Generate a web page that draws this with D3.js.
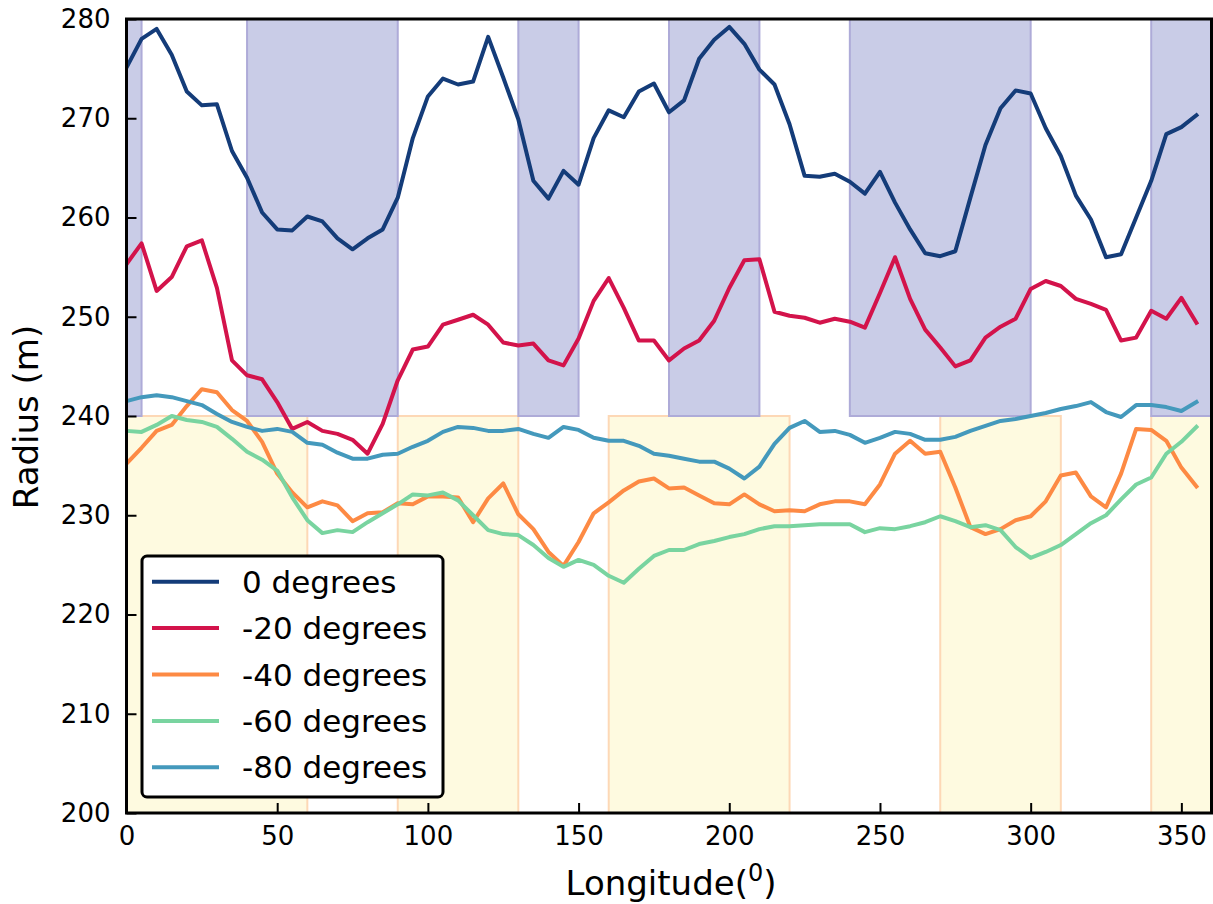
<!DOCTYPE html>
<html>
<head>
<meta charset="utf-8">
<script src="https://cdn.jsdelivr.net/npm/d3@7"></script>
<style>
  html, body { margin: 0; padding: 0; background: #fff; }
  svg { display: block; font-family: "DejaVu Sans", sans-serif; }
</style>
</head>
<body>
<svg id="chart" width="1213" height="904"></svg>
<script>
// ---- data ----
const longitudes = [0, 5, 10, 15, 20, 25, 30, 35, 40, 45, 50, 55, 60, 65, 70, 75, 80, 85, 90, 95,
  100, 105, 110, 115, 120, 125, 130, 135, 140, 145, 150, 155, 160, 165, 170, 175, 180, 185, 190, 195,
  200, 205, 210, 215, 220, 225, 230, 235, 240, 245, 250, 255, 260, 265, 270, 275, 280, 285, 290, 295,
  300, 305, 310, 315, 320, 325, 330, 335, 340, 345, 350, 355];

const seriesNames = ["0 degrees", "-20 degrees", "-40 degrees", "-60 degrees", "-80 degrees"];
const seriesColors = ["#143c79", "#d3134b", "#fd8a44", "#79d4a0", "#4499bc"];

const deg0 = [275.1, 278.0, 279.0, 276.4, 272.7, 271.3, 271.4, 266.7, 264.0, 260.5,
  258.8, 258.7, 260.1, 259.6, 257.9, 256.8, 257.9, 258.8, 262.0, 268.0,
  272.2, 274.0, 273.4, 273.7, 278.2, 274.1, 269.9, 263.7, 261.9, 264.7,
  263.3, 268.0, 270.8, 270.1, 272.7, 273.5, 270.6, 271.8, 276.0, 277.9,
  279.2, 277.5, 274.9, 273.4, 269.4, 264.2, 264.1, 264.4, 263.6, 262.4,
  264.6, 261.5, 258.8, 256.4, 256.1, 256.6, 262.0, 267.3, 271.0, 272.8,
  272.5, 269.0, 266.2, 262.2, 259.8, 256.0, 256.3, 260.0, 263.7, 268.4,
  269.1, 270.3];

const deg20 = [255.3, 257.4, 252.6, 254.0, 257.1, 257.7, 252.9, 245.6, 244.1, 243.7,
  241.4, 238.7, 239.4, 238.5, 238.2, 237.6, 236.2, 239.2, 243.6, 246.7,
  247.0, 249.2, 249.7, 250.2, 249.2, 247.4, 247.1, 247.3, 245.6, 245.1,
  247.8, 251.6, 253.9, 250.9, 247.6, 247.6, 245.6, 246.8, 247.6, 249.6,
  252.9, 255.7, 255.8, 250.5, 250.1, 249.9, 249.4, 249.8, 249.5, 248.9,
  252.4, 256.0, 251.8, 248.7, 246.9, 245.0, 245.6, 247.9, 249.0, 249.8,
  252.8, 253.6, 253.1, 251.8, 251.3, 250.7, 247.6, 247.9, 250.6, 249.8,
  251.9, 249.4];

const deg40 = [235.2, 236.8, 238.5, 239.1, 241.0, 242.7, 242.4, 240.6, 239.5, 237.4,
  234.2, 232.3, 230.8, 231.4, 231.0, 229.4, 230.2, 230.3, 231.2, 231.1,
  231.9, 231.9, 231.8, 229.3, 231.7, 233.2, 230.1, 228.6, 226.3, 224.9,
  227.3, 230.2, 231.3, 232.5, 233.4, 233.7, 232.7, 232.8, 232.0, 231.2,
  231.1, 232.1, 231.1, 230.4, 230.5, 230.4, 231.1, 231.4, 231.4, 231.1,
  233.1, 236.2, 237.5, 236.2, 236.4, 232.8, 228.8, 228.1, 228.6, 229.5,
  229.9, 231.4, 234.0, 234.3, 231.9, 230.8, 234.2, 238.7, 238.6, 237.5,
  234.8, 232.9];

const deg60 = [238.5, 238.4, 239.1, 240.0, 239.6, 239.4, 238.9, 237.7, 236.4, 235.6,
  234.5, 231.8, 229.5, 228.2, 228.5, 228.3, 229.3, 230.2, 231.1, 232.1,
  232.0, 232.3, 231.5, 230.0, 228.5, 228.1, 228.0, 227.0, 225.7, 224.8,
  225.5, 225.0, 223.9, 223.2, 224.6, 225.9, 226.5, 226.5, 227.1, 227.4,
  227.8, 228.1, 228.6, 228.9, 228.9, 229.0, 229.1, 229.1, 229.1, 228.3,
  228.7, 228.6, 228.9, 229.3, 229.9, 229.4, 228.8, 229.0, 228.5, 226.8,
  225.7, 226.3, 227.0, 228.1, 229.2, 230.0, 231.6, 233.1, 233.8, 236.2,
  237.4, 238.9];

const deg80 = [241.5, 241.9, 242.1, 241.9, 241.5, 241.1, 240.2, 239.4, 238.9, 238.5,
  238.7, 238.4, 237.3, 237.1, 236.3, 235.7, 235.7, 236.1, 236.2, 236.9,
  237.5, 238.4, 238.9, 238.8, 238.5, 238.5, 238.7, 238.2, 237.8, 238.9,
  238.6, 237.8, 237.5, 237.5, 237.0, 236.2, 236.0, 235.7, 235.4, 235.4,
  234.7, 233.7, 234.9, 237.2, 238.8, 239.5, 238.4, 238.5, 238.1, 237.3,
  237.8, 238.4, 238.2, 237.6, 237.6, 237.9, 238.5, 239.0, 239.5, 239.7,
  240.0, 240.3, 240.7, 241.0, 241.4, 240.4, 239.9, 241.1, 241.1, 240.9,
  240.5, 241.4];

// shaded longitude bands: [start, end]
const blueBands = [[0, 5], [40, 90], [130, 150], [180, 210], [240, 300], [340, 360]];
const blueBandRange = [240, 280];
const yellowBands = [[0, 60], [90, 130], [160, 220], [270, 310], [340, 360]];
const yellowBandRange = [200, 240];

const xTicks = [0, 50, 100, 150, 200, 250, 300, 350];
const yTicks = [200, 210, 220, 230, 240, 250, 260, 270, 280];
const xDomain = [0, 360];
const yDomain = [200, 280];

// ---- drawing ----
const svg = d3.select("#chart");
const L = 126.5, R = 1211.5, T = 19, B = 813;
const x = d3.scaleLinear().domain(xDomain).range([L, R]);
const y = d3.scaleLinear().domain(yDomain).range([B, T]);

svg.append("defs").append("clipPath").attr("id", "plotclip")
  .append("rect").attr("x", L).attr("y", T).attr("width", R - L).attr("height", B - T);

const plot = svg.append("g").attr("clip-path", "url(#plotclip)");

plot.selectAll("rect.yellow").data(yellowBands).join("rect")
  .attr("class", "yellow")
  .attr("x", d => x(d[0])).attr("width", d => x(d[1]) - x(d[0]))
  .attr("y", y(yellowBandRange[1])).attr("height", y(yellowBandRange[0]) - y(yellowBandRange[1]))
  .attr("fill", "#fefae0").attr("stroke", "#fdd8b6").attr("stroke-width", 2);

plot.selectAll("rect.blue").data(blueBands).join("rect")
  .attr("class", "blue")
  .attr("x", d => x(d[0])).attr("width", d => x(d[1]) - x(d[0]))
  .attr("y", y(blueBandRange[1])).attr("height", y(blueBandRange[0]) - y(blueBandRange[1]))
  .attr("fill", "#c9cce7").attr("stroke", "#aeabd8").attr("stroke-width", 2);

const allSeries = [deg0, deg20, deg40, deg60, deg80];
const line = d3.line().x((d, i) => x(longitudes[i])).y(d => y(d));

allSeries.forEach((vals, k) => {
  plot.append("path").datum(vals)
    .attr("d", line)
    .attr("fill", "none")
    .attr("stroke", seriesColors[k])
    .attr("stroke-width", 4)
    .attr("stroke-linejoin", "round")
    .attr("stroke-linecap", "square");
});

// axes
const xAxis = d3.axisBottom(x).tickValues(xTicks).tickFormat(d3.format("d"))
  .tickSizeInner(-10).tickSizeOuter(0).tickPadding(14);
const yAxis = d3.axisLeft(y).tickValues(yTicks).tickFormat(d3.format("d"))
  .tickSizeInner(-10).tickSizeOuter(0).tickPadding(16);

const gx = svg.append("g").attr("transform", `translate(0,${B})`).call(xAxis);
const gy = svg.append("g").attr("transform", `translate(${L},0)`).call(yAxis);
[gx, gy].forEach(g => {
  g.select(".domain").remove();
  g.selectAll(".tick line").attr("stroke", "#000").attr("stroke-width", 2);
  g.selectAll(".tick text").attr("fill", "#000")
    .style("font-family", "DejaVu Sans").style("font-size", "26px");
});

// frame
svg.append("rect").attr("x", L).attr("y", T).attr("width", R - L).attr("height", B - T)
  .attr("fill", "none").attr("stroke", "#000").attr("stroke-width", 3);

// axis labels
const xl = svg.append("text").attr("x", (L + R) / 2 + 2).attr("y", 895)
  .attr("text-anchor", "middle").style("font-size", "34px").attr("fill", "#000");
xl.append("tspan").text("Longitude(");
xl.append("tspan").text("0").style("font-size", "24px").attr("dy", -14);
xl.append("tspan").text(")").attr("dy", 14);

svg.append("text")
  .attr("transform", `translate(38,${(T + B) / 2 + 1}) rotate(-90)`)
  .attr("text-anchor", "middle").style("font-size", "34px").attr("fill", "#000")
  .text("Radius (m)");

// legend
const leg = svg.append("g");
leg.append("rect").attr("x", 142).attr("y", 556).attr("width", 301).attr("height", 241)
  .attr("rx", 5).attr("fill", "#fff").attr("stroke", "#000").attr("stroke-width", 3);
seriesNames.forEach((name, k) => {
  const yy = 581.7 + k * 46.4;
  leg.append("line").attr("x1", 152).attr("x2", 219).attr("y1", yy).attr("y2", yy)
    .attr("stroke", seriesColors[k]).attr("stroke-width", 4);
  leg.append("text").attr("x", 242).attr("y", yy).attr("dy", "0.36em")
    .style("font-size", "31px").attr("fill", "#000").text(name);
});
</script>
</body>
</html>
